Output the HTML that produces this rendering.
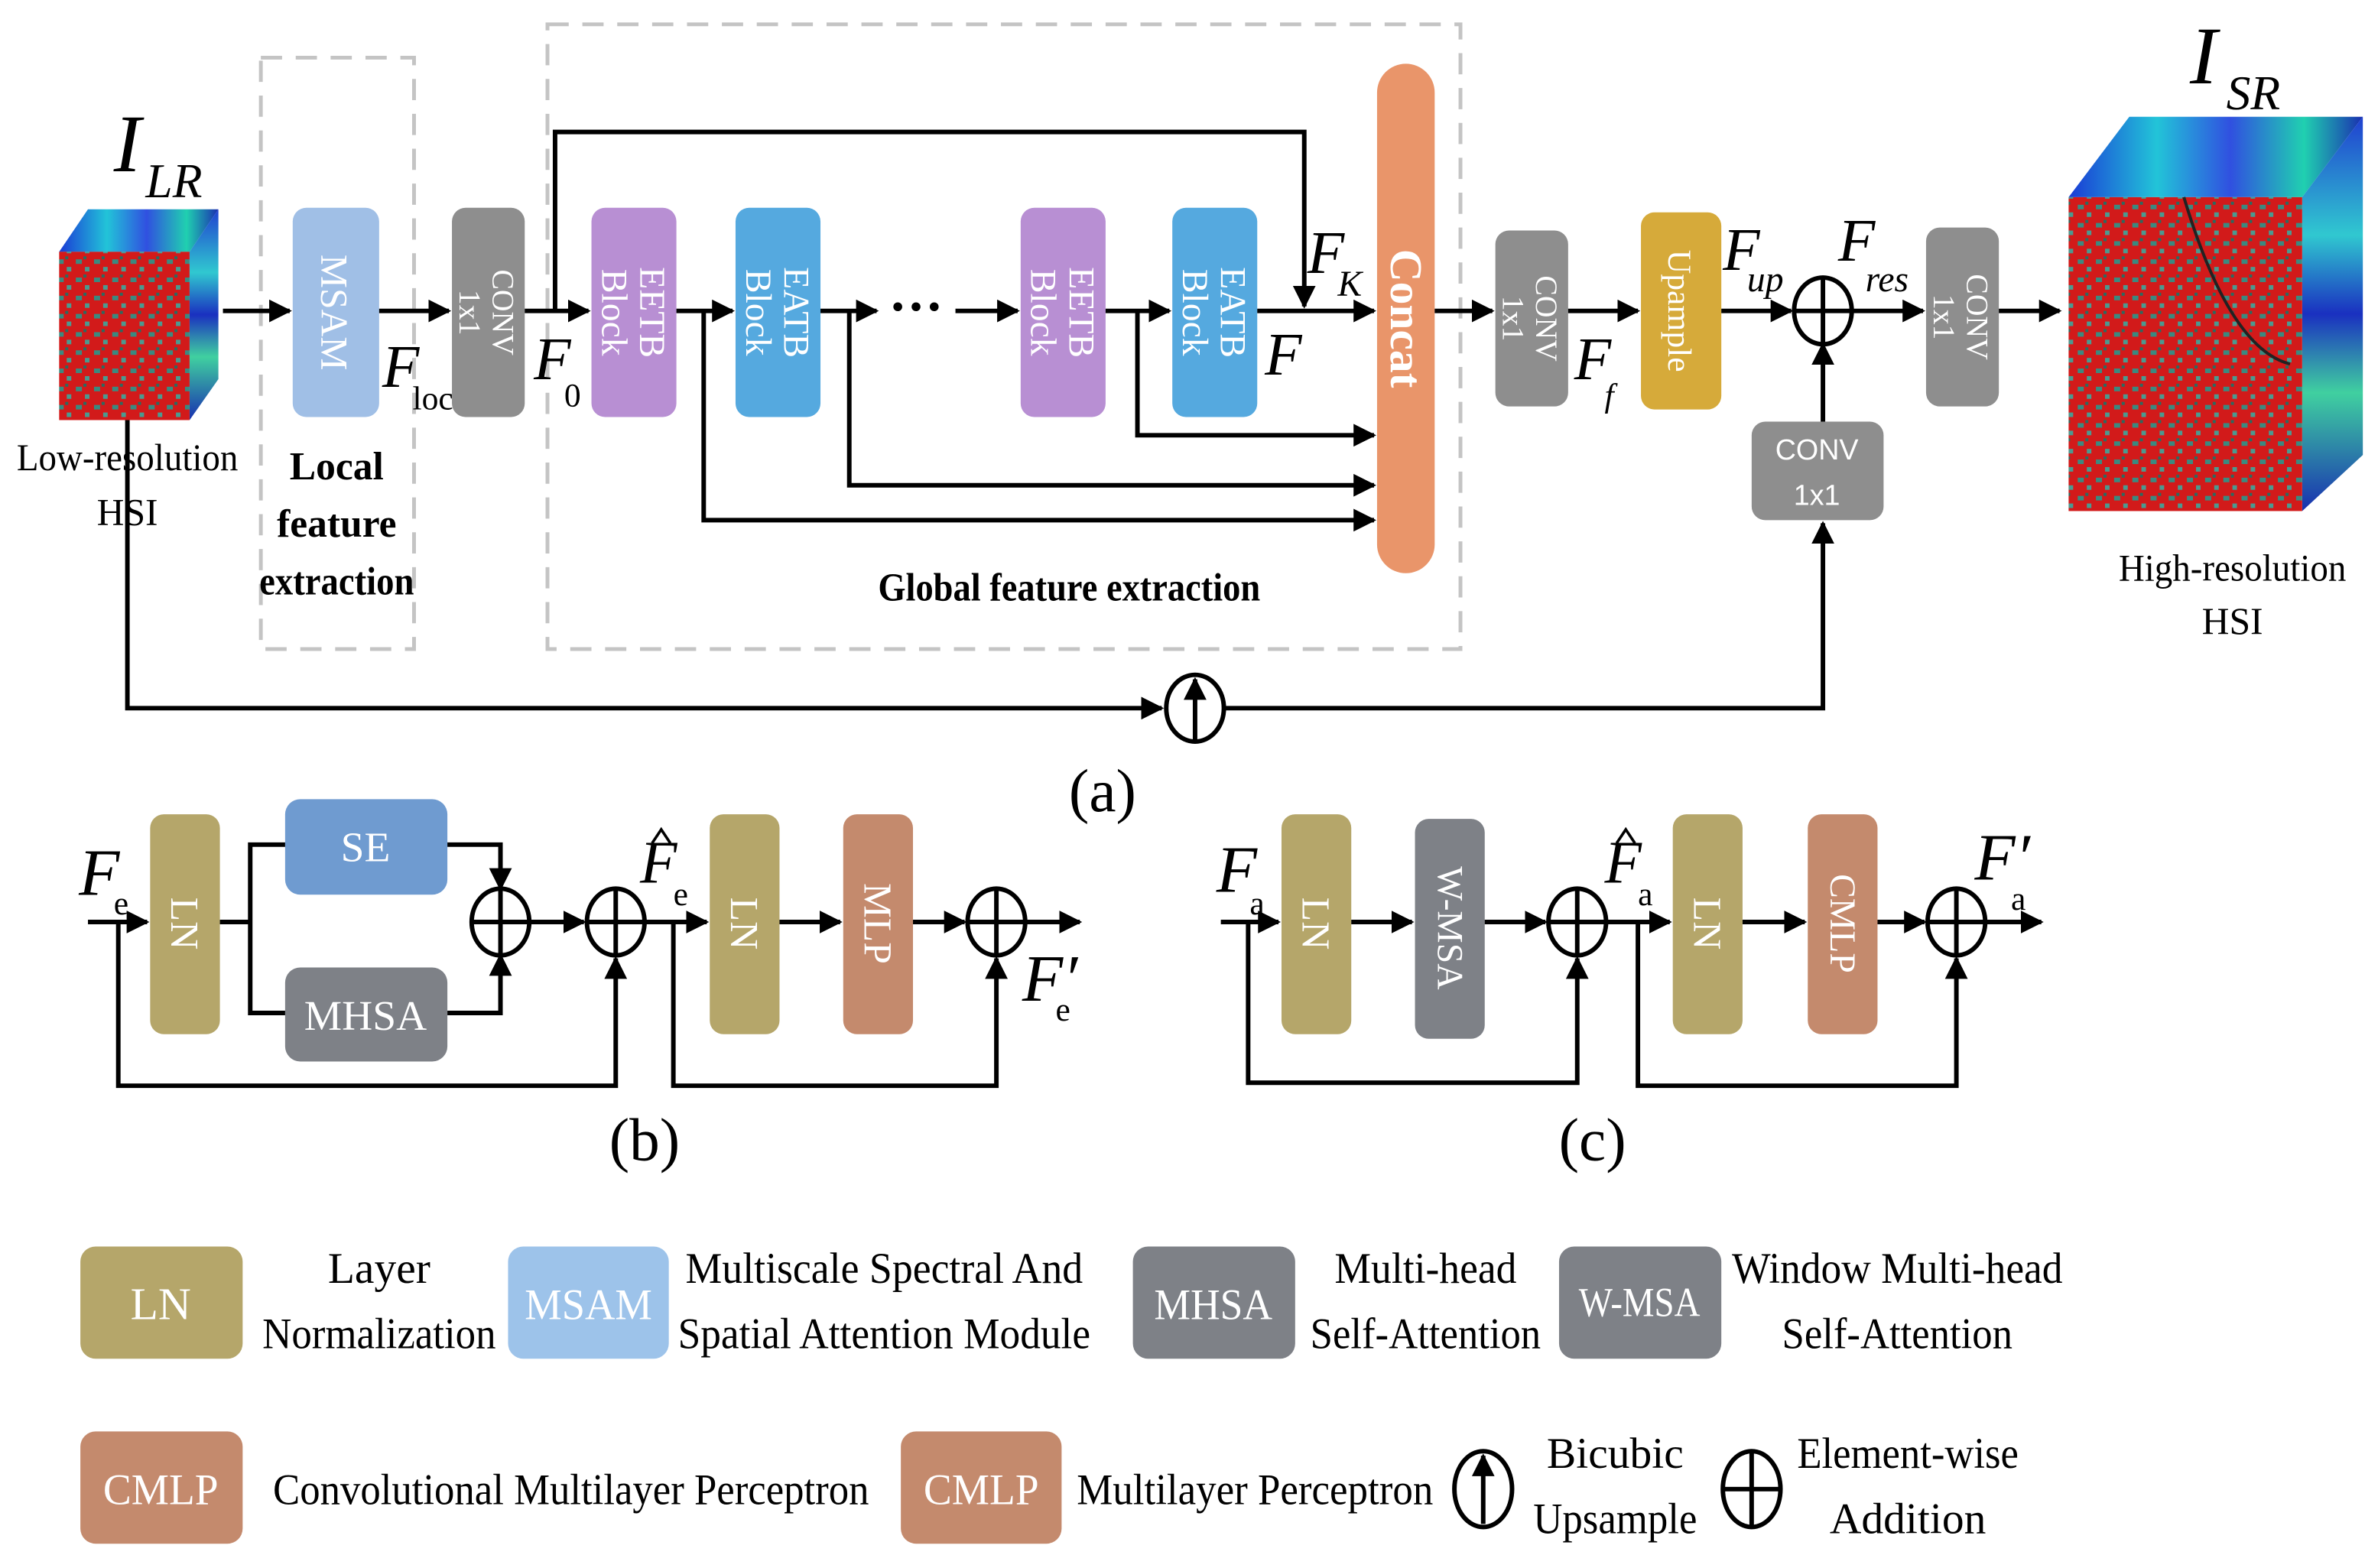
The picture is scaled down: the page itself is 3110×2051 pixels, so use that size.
<!DOCTYPE html>
<html><head><meta charset="utf-8"><style>
html,body{margin:0;padding:0;background:#fff;}
svg{display:block;}
text{font-family:"Liberation Serif",serif;}
.w{fill:#fff;}
.sans{font-family:"Liberation Sans",sans-serif;}
</style></head><body>
<svg width="3110" height="2051" viewBox="0 0 1568 1034" xmlns="http://www.w3.org/2000/svg">
<defs>
<marker id="a" viewBox="0 0 10 10" refX="9" refY="5" markerWidth="5" markerHeight="5" orient="auto" markerUnits="strokeWidth"><path d="M0,0 L10,5 L0,10 z" fill="#000"/></marker>
<linearGradient id="top" x1="0" y1="0" x2="1" y2="0"><stop offset="0" stop-color="#1a3bd6"/><stop offset=".3" stop-color="#22c4d8"/><stop offset=".55" stop-color="#3050e0"/><stop offset=".8" stop-color="#20d0b0"/><stop offset="1" stop-color="#1a2fb0"/></linearGradient>
<linearGradient id="side" x1="0" y1="0" x2="0" y2="1"><stop offset="0" stop-color="#2040d0"/><stop offset=".3" stop-color="#30c8d0"/><stop offset=".5" stop-color="#1a30c0"/><stop offset=".7" stop-color="#40d0a0"/><stop offset="1" stop-color="#1830b0"/></linearGradient>
<pattern id="tex" width="12" height="12" patternUnits="userSpaceOnUse"><rect width="12" height="12" fill="#d21a1a"/><rect x="2" y="3" width="4" height="3" fill="#3a8a80"/><rect x="8" y="8" width="3" height="3" fill="#4a9a90"/><rect x="7" y="1" width="2" height="2" fill="#2a6a60"/></pattern>
</defs>

<!-- dashed boxes -->
<rect x="172" y="38" width="101" height="390" fill="none" stroke="#c4c4c4" stroke-width="2.5" stroke-dasharray="14,9"/>
<rect x="361" y="16" width="602" height="412" fill="none" stroke="#c4c4c4" stroke-width="2.5" stroke-dasharray="14,9"/>

<!-- LR cube -->
<polygon points="39,166 125,166 144,138 58,138" fill="url(#top)"/>
<polygon points="125,166 144,138 144,250 125,277" fill="url(#side)"/>
<rect x="39" y="166" width="86" height="111" fill="url(#tex)"/>
<text x="75" y="113" font-size="54" font-style="italic">I</text>
<text x="96" y="130" font-size="32" font-style="italic">LR</text>
<text x="84" y="310" font-size="25" text-anchor="middle" textLength="146" lengthAdjust="spacingAndGlyphs">Low-resolution</text>
<text x="84" y="346" font-size="25" text-anchor="middle">HSI</text>

<!-- SR cube -->
<polygon points="1364,130 1518,130 1558,77 1404,77" fill="url(#top)"/>
<polygon points="1518,130 1558,77 1558,300 1518,337" fill="url(#side)"/>
<rect x="1364" y="130" width="154" height="207" fill="url(#tex)"/>
<path d="M1440,130 Q1470,230 1510,240" stroke="#222" stroke-width="2" fill="none"/>
<text x="1444" y="55" font-size="54" font-style="italic">I</text>
<text x="1468" y="72" font-size="32" font-style="italic">SR</text>
<text x="1472" y="383" font-size="25" text-anchor="middle" textLength="150" lengthAdjust="spacingAndGlyphs">High-resolution</text>
<text x="1472" y="418" font-size="25" text-anchor="middle">HSI</text>

<!-- boxes top -->
<rect x="193" y="137" width="57" height="138" rx="9" fill="#a0bfe6"/>
<text class="w" font-size="25" transform="translate(221,206) rotate(90)" text-anchor="middle" dy="9">MSAM</text>
<rect x="298" y="137" width="48" height="138" rx="9" fill="#8e8e8e"/>
<text class="w" font-size="20" transform="translate(322,206) rotate(90)" text-anchor="middle"><tspan x="0" dy="-3">CONV</tspan><tspan x="0" dy="22">1x1</tspan></text>
<rect x="390" y="137" width="56" height="138" rx="9" fill="#b88fd3"/>
<text class="w" font-size="24" transform="translate(418,206) rotate(90)" text-anchor="middle"><tspan x="0" dy="-4">EETB</tspan><tspan x="0" dy="25">Block</tspan></text>
<rect x="485" y="137" width="56" height="138" rx="9" fill="#55a9df"/>
<text class="w" font-size="24" transform="translate(513,206) rotate(90)" text-anchor="middle"><tspan x="0" dy="-4">EATB</tspan><tspan x="0" dy="25">Block</tspan></text>
<rect x="673" y="137" width="56" height="138" rx="9" fill="#b88fd3"/>
<text class="w" font-size="24" transform="translate(701,206) rotate(90)" text-anchor="middle"><tspan x="0" dy="-4">EETB</tspan><tspan x="0" dy="25">Block</tspan></text>
<rect x="773" y="137" width="56" height="138" rx="9" fill="#55a9df"/>
<text class="w" font-size="24" transform="translate(801,206) rotate(90)" text-anchor="middle"><tspan x="0" dy="-4">EATB</tspan><tspan x="0" dy="25">Block</tspan></text>
<rect x="908" y="42" width="38" height="336" rx="19" fill="#e9956a"/>
<text class="w" font-size="30" font-weight="bold" transform="translate(927,210) rotate(90)" text-anchor="middle" dy="10">Concat</text>
<rect x="986" y="152" width="48" height="116" rx="9" fill="#8e8e8e"/>
<text class="w" font-size="20" transform="translate(1010,210) rotate(90)" text-anchor="middle"><tspan x="0" dy="-3">CONV</tspan><tspan x="0" dy="22">1x1</tspan></text>
<rect x="1082" y="140" width="53" height="130" rx="9" fill="#d6aa3a"/>
<text class="w" font-size="22" transform="translate(1108,205) rotate(90)" text-anchor="middle" dy="8">Upample</text>
<rect x="1270" y="150" width="48" height="118" rx="9" fill="#8e8e8e"/>
<text class="w" font-size="20" transform="translate(1294,209) rotate(90)" text-anchor="middle"><tspan x="0" dy="-3">CONV</tspan><tspan x="0" dy="22">1x1</tspan></text>
<rect x="1155" y="278" width="87" height="65" rx="9" fill="#8e8e8e"/>
<text class="w sans" font-size="19" x="1198" y="303" text-anchor="middle">CONV</text>
<text class="w sans" font-size="19" x="1198" y="333" text-anchor="middle">1x1</text>

<!-- connectors top -->
<g stroke="#000" stroke-width="3" fill="none">
<line x1="147" y1="205" x2="191" y2="205" marker-end="url(#a)"/>
<line x1="250" y1="205" x2="296" y2="205" marker-end="url(#a)"/>
<line x1="346" y1="205" x2="388" y2="205" marker-end="url(#a)"/>
<polyline points="366,205 366,87 860,87 860,202" marker-end="url(#a)"/>
<line x1="446" y1="205" x2="483" y2="205" marker-end="url(#a)"/>
<line x1="541" y1="205" x2="578" y2="205" marker-end="url(#a)"/>
<line x1="630" y1="205" x2="671" y2="205" marker-end="url(#a)"/>
<line x1="729" y1="205" x2="771" y2="205" marker-end="url(#a)"/>
<line x1="829" y1="205" x2="906" y2="205" marker-end="url(#a)"/>
<polyline points="750,205 750,287 906,287" marker-end="url(#a)"/>
<polyline points="560,205 560,320 906,320" marker-end="url(#a)"/>
<polyline points="464,205 464,343 906,343" marker-end="url(#a)"/>
<line x1="946" y1="205" x2="984" y2="205" marker-end="url(#a)"/>
<line x1="1034" y1="205" x2="1080" y2="205" marker-end="url(#a)"/>
<line x1="1135" y1="205" x2="1181" y2="205" marker-end="url(#a)"/>
<line x1="1222" y1="205" x2="1268" y2="205" marker-end="url(#a)"/>
<line x1="1318" y1="205" x2="1358" y2="205" marker-end="url(#a)"/>
<line x1="1202" y1="278" x2="1202" y2="227" marker-end="url(#a)"/>
<polyline points="84,277 84,467 766,467" marker-end="url(#a)"/>
<polyline points="808,467 1202,467 1202,345" marker-end="url(#a)"/>
<ellipse cx="1202" cy="205" rx="19" ry="22"/>
<line x1="1183" y1="205" x2="1221" y2="205"/><line x1="1202" y1="183" x2="1202" y2="227"/>
<ellipse cx="788" cy="467" rx="19" ry="22"/>
<line x1="788" y1="488" x2="788" y2="448" marker-end="url(#a)"/>
</g>
<text x="586" y="214" font-size="36" font-weight="bold">···</text>

<!-- top labels -->
<g font-style="italic">
<text x="252" y="255" font-size="40">F</text><text x="272" y="270" font-size="22" font-style="normal">loc</text>
<text x="352" y="250" font-size="40">F</text><text x="372" y="268" font-size="22" font-style="normal">0</text>
<text x="862" y="180" font-size="40">F</text><text x="882" y="195" font-size="24">K</text>
<text x="834" y="247" font-size="40">F</text>
<text x="1038" y="250" font-size="40">F</text><text x="1058" y="268" font-size="22">f</text>
<text x="1136" y="178" font-size="40">F</text><text x="1152" y="192" font-size="24">up</text>
<text x="1212" y="172" font-size="40">F</text><text x="1230" y="192" font-size="24">res</text>
</g>
<text x="705" y="396" font-size="26" font-weight="bold" text-anchor="middle" textLength="252" lengthAdjust="spacingAndGlyphs">Global feature extraction</text>
<text x="222" y="316" font-size="26" font-weight="bold" text-anchor="middle">Local</text>
<text x="222" y="354" font-size="26" font-weight="bold" text-anchor="middle">feature</text>
<text x="222" y="392" font-size="26" font-weight="bold" text-anchor="middle" textLength="102" lengthAdjust="spacingAndGlyphs">extraction</text>
<text x="727" y="535" font-size="40" text-anchor="middle">(a)</text>

<!-- (b) -->
<rect x="99" y="537" width="46" height="145" rx="9" fill="#b5a66a"/>
<text class="w" font-size="26" transform="translate(122,609) rotate(90)" text-anchor="middle" dy="9">LN</text>
<rect x="188" y="527" width="107" height="63" rx="10" fill="#6f9bd0"/>
<text class="w" font-size="28" x="241" y="568" text-anchor="middle">SE</text>
<rect x="188" y="638" width="107" height="62" rx="10" fill="#7e8187"/>
<text class="w" font-size="28" x="241" y="679" text-anchor="middle">MHSA</text>
<rect x="468" y="537" width="46" height="145" rx="9" fill="#b5a66a"/>
<text class="w" font-size="26" transform="translate(491,609) rotate(90)" text-anchor="middle" dy="9">LN</text>
<rect x="556" y="537" width="46" height="145" rx="9" fill="#c48a6d"/>
<text class="w" font-size="26" transform="translate(579,609) rotate(90)" text-anchor="middle" dy="9">MLP</text>
<g stroke="#000" stroke-width="3" fill="none">
<line x1="58" y1="608" x2="97" y2="608" marker-end="url(#a)"/>
<polyline points="145,608 165,608"/>
<polyline points="188,557 165,557 165,668 188,668"/>
<polyline points="295,557 330,557 330,586" marker-end="url(#a)"/>
<polyline points="295,668 330,668 330,630" marker-end="url(#a)"/>
<ellipse cx="330" cy="608" rx="19" ry="22"/><line x1="311" y1="608" x2="349" y2="608"/><line x1="330" y1="586" x2="330" y2="630"/>
<line x1="349" y1="608" x2="385" y2="608" marker-end="url(#a)"/>
<ellipse cx="406" cy="608" rx="19" ry="22"/><line x1="387" y1="608" x2="425" y2="608"/><line x1="406" y1="586" x2="406" y2="630"/>
<polyline points="78,608 78,716 406,716 406,632" marker-end="url(#a)"/>
<line x1="425" y1="608" x2="466" y2="608" marker-end="url(#a)"/>
<line x1="514" y1="608" x2="554" y2="608" marker-end="url(#a)"/>
<line x1="602" y1="608" x2="636" y2="608" marker-end="url(#a)"/>
<ellipse cx="657" cy="608" rx="19" ry="22"/><line x1="638" y1="608" x2="676" y2="608"/><line x1="657" y1="586" x2="657" y2="630"/>
<line x1="676" y1="608" x2="712" y2="608" marker-end="url(#a)"/>
<polyline points="444,608 444,716 657,716 657,632" marker-end="url(#a)"/>
<polyline points="430,556 436,547 442,556" stroke-width="1.8"/>
<polyline points="1066,556 1072,547 1078,556" stroke-width="1.8"/>
</g>
<text x="52" y="590" font-size="44" font-style="italic">F</text><text x="75" y="603" font-size="22">e</text>
<text x="422" y="582" font-size="40" font-style="italic">F</text><text x="444" y="597" font-size="22">e</text>
<text x="674" y="660" font-size="44" font-style="italic">F′</text><text x="696" y="673" font-size="22">e</text>
<text x="425" y="765" font-size="40" text-anchor="middle">(b)</text>

<!-- (c) -->
<rect x="845" y="537" width="46" height="145" rx="9" fill="#b5a66a"/>
<text class="w" font-size="26" transform="translate(868,609) rotate(90)" text-anchor="middle" dy="9">LN</text>
<rect x="933" y="540" width="46" height="145" rx="9" fill="#7e8187"/>
<text class="w" font-size="24" transform="translate(956,612) rotate(90)" text-anchor="middle" dy="8">W-MSA</text>
<rect x="1103" y="537" width="46" height="145" rx="9" fill="#b5a66a"/>
<text class="w" font-size="26" transform="translate(1126,609) rotate(90)" text-anchor="middle" dy="9">LN</text>
<rect x="1192" y="537" width="46" height="145" rx="9" fill="#c48a6d"/>
<text class="w" font-size="24" transform="translate(1215,609) rotate(90)" text-anchor="middle" dy="8">CMLP</text>
<g stroke="#000" stroke-width="3" fill="none">
<line x1="805" y1="608" x2="843" y2="608" marker-end="url(#a)"/>
<line x1="891" y1="608" x2="931" y2="608" marker-end="url(#a)"/>
<line x1="979" y1="608" x2="1019" y2="608" marker-end="url(#a)"/>
<ellipse cx="1040" cy="608" rx="19" ry="22"/><line x1="1021" y1="608" x2="1059" y2="608"/><line x1="1040" y1="586" x2="1040" y2="630"/>
<polyline points="823,608 823,714 1040,714 1040,632" marker-end="url(#a)"/>
<line x1="1059" y1="608" x2="1101" y2="608" marker-end="url(#a)"/>
<line x1="1149" y1="608" x2="1190" y2="608" marker-end="url(#a)"/>
<line x1="1238" y1="608" x2="1269" y2="608" marker-end="url(#a)"/>
<ellipse cx="1290" cy="608" rx="19" ry="22"/><line x1="1271" y1="608" x2="1309" y2="608"/><line x1="1290" y1="586" x2="1290" y2="630"/>
<line x1="1309" y1="608" x2="1346" y2="608" marker-end="url(#a)"/>
<polyline points="1080,608 1080,716 1290,716 1290,632" marker-end="url(#a)"/>
</g>
<text x="802" y="588" font-size="44" font-style="italic">F</text><text x="824" y="603" font-size="22">a</text>
<text x="1058" y="582" font-size="40" font-style="italic">F</text><text x="1080" y="597" font-size="22">a</text>
<text x="1302" y="580" font-size="44" font-style="italic">F′</text><text x="1326" y="600" font-size="22">a</text>
<text x="1050" y="765" font-size="40" text-anchor="middle">(c)</text>

<!-- legend -->
<rect x="53" y="822" width="107" height="74" rx="10" fill="#b5a66a"/>
<text class="w" font-size="30" x="106" y="870" text-anchor="middle">LN</text>
<text x="250" y="846" font-size="29" text-anchor="middle">Layer</text>
<text x="250" y="889" font-size="29" text-anchor="middle" textLength="154" lengthAdjust="spacingAndGlyphs">Normalization</text>
<rect x="335" y="822" width="106" height="74" rx="10" fill="#9dc3ea"/>
<text class="w" font-size="29" x="388" y="870" text-anchor="middle" textLength="84" lengthAdjust="spacingAndGlyphs">MSAM</text>
<text x="583" y="846" font-size="29" text-anchor="middle" textLength="262" lengthAdjust="spacingAndGlyphs">Multiscale Spectral And</text>
<text x="583" y="889" font-size="29" text-anchor="middle" textLength="272" lengthAdjust="spacingAndGlyphs">Spatial Attention Module</text>
<rect x="747" y="822" width="107" height="74" rx="10" fill="#7e8187"/>
<text class="w" font-size="29" x="800" y="870" text-anchor="middle" textLength="78" lengthAdjust="spacingAndGlyphs">MHSA</text>
<text x="940" y="846" font-size="29" text-anchor="middle" textLength="120" lengthAdjust="spacingAndGlyphs">Multi-head</text>
<text x="940" y="889" font-size="29" text-anchor="middle" textLength="152" lengthAdjust="spacingAndGlyphs">Self-Attention</text>
<rect x="1028" y="822" width="107" height="74" rx="10" fill="#7e8187"/>
<text class="w" font-size="27" x="1081" y="868" text-anchor="middle" textLength="80" lengthAdjust="spacingAndGlyphs">W-MSA</text>
<text x="1251" y="846" font-size="29" text-anchor="middle" textLength="218" lengthAdjust="spacingAndGlyphs">Window Multi-head</text>
<text x="1251" y="889" font-size="29" text-anchor="middle" textLength="152" lengthAdjust="spacingAndGlyphs">Self-Attention</text>

<rect x="53" y="944" width="107" height="74" rx="10" fill="#c48a6d"/>
<text class="w" font-size="29" x="106" y="992" text-anchor="middle" textLength="76" lengthAdjust="spacingAndGlyphs">CMLP</text>
<text x="180" y="992" font-size="29" textLength="393" lengthAdjust="spacingAndGlyphs">Convolutional Multilayer Perceptron</text>
<rect x="594" y="944" width="106" height="74" rx="10" fill="#c48a6d"/>
<text class="w" font-size="29" x="647" y="992" text-anchor="middle" textLength="76" lengthAdjust="spacingAndGlyphs">CMLP</text>
<text x="710" y="992" font-size="29" textLength="235" lengthAdjust="spacingAndGlyphs">Multilayer Perceptron</text>
<g stroke="#000" stroke-width="3" fill="none">
<ellipse cx="978" cy="982" rx="19" ry="25"/>
<line x1="978" y1="1005" x2="978" y2="960" marker-end="url(#a)"/>
<ellipse cx="1155" cy="982" rx="19" ry="25"/><line x1="1136" y1="982" x2="1174" y2="982"/><line x1="1155" y1="957" x2="1155" y2="1007"/>
</g>
<text x="1065" y="968" font-size="29" text-anchor="middle">Bicubic</text>
<text x="1065" y="1011" font-size="29" text-anchor="middle" textLength="108" lengthAdjust="spacingAndGlyphs">Upsample</text>
<text x="1258" y="968" font-size="29" text-anchor="middle" textLength="146" lengthAdjust="spacingAndGlyphs">Element-wise</text>
<text x="1258" y="1011" font-size="29" text-anchor="middle">Addition</text>
</svg>
</body></html>
